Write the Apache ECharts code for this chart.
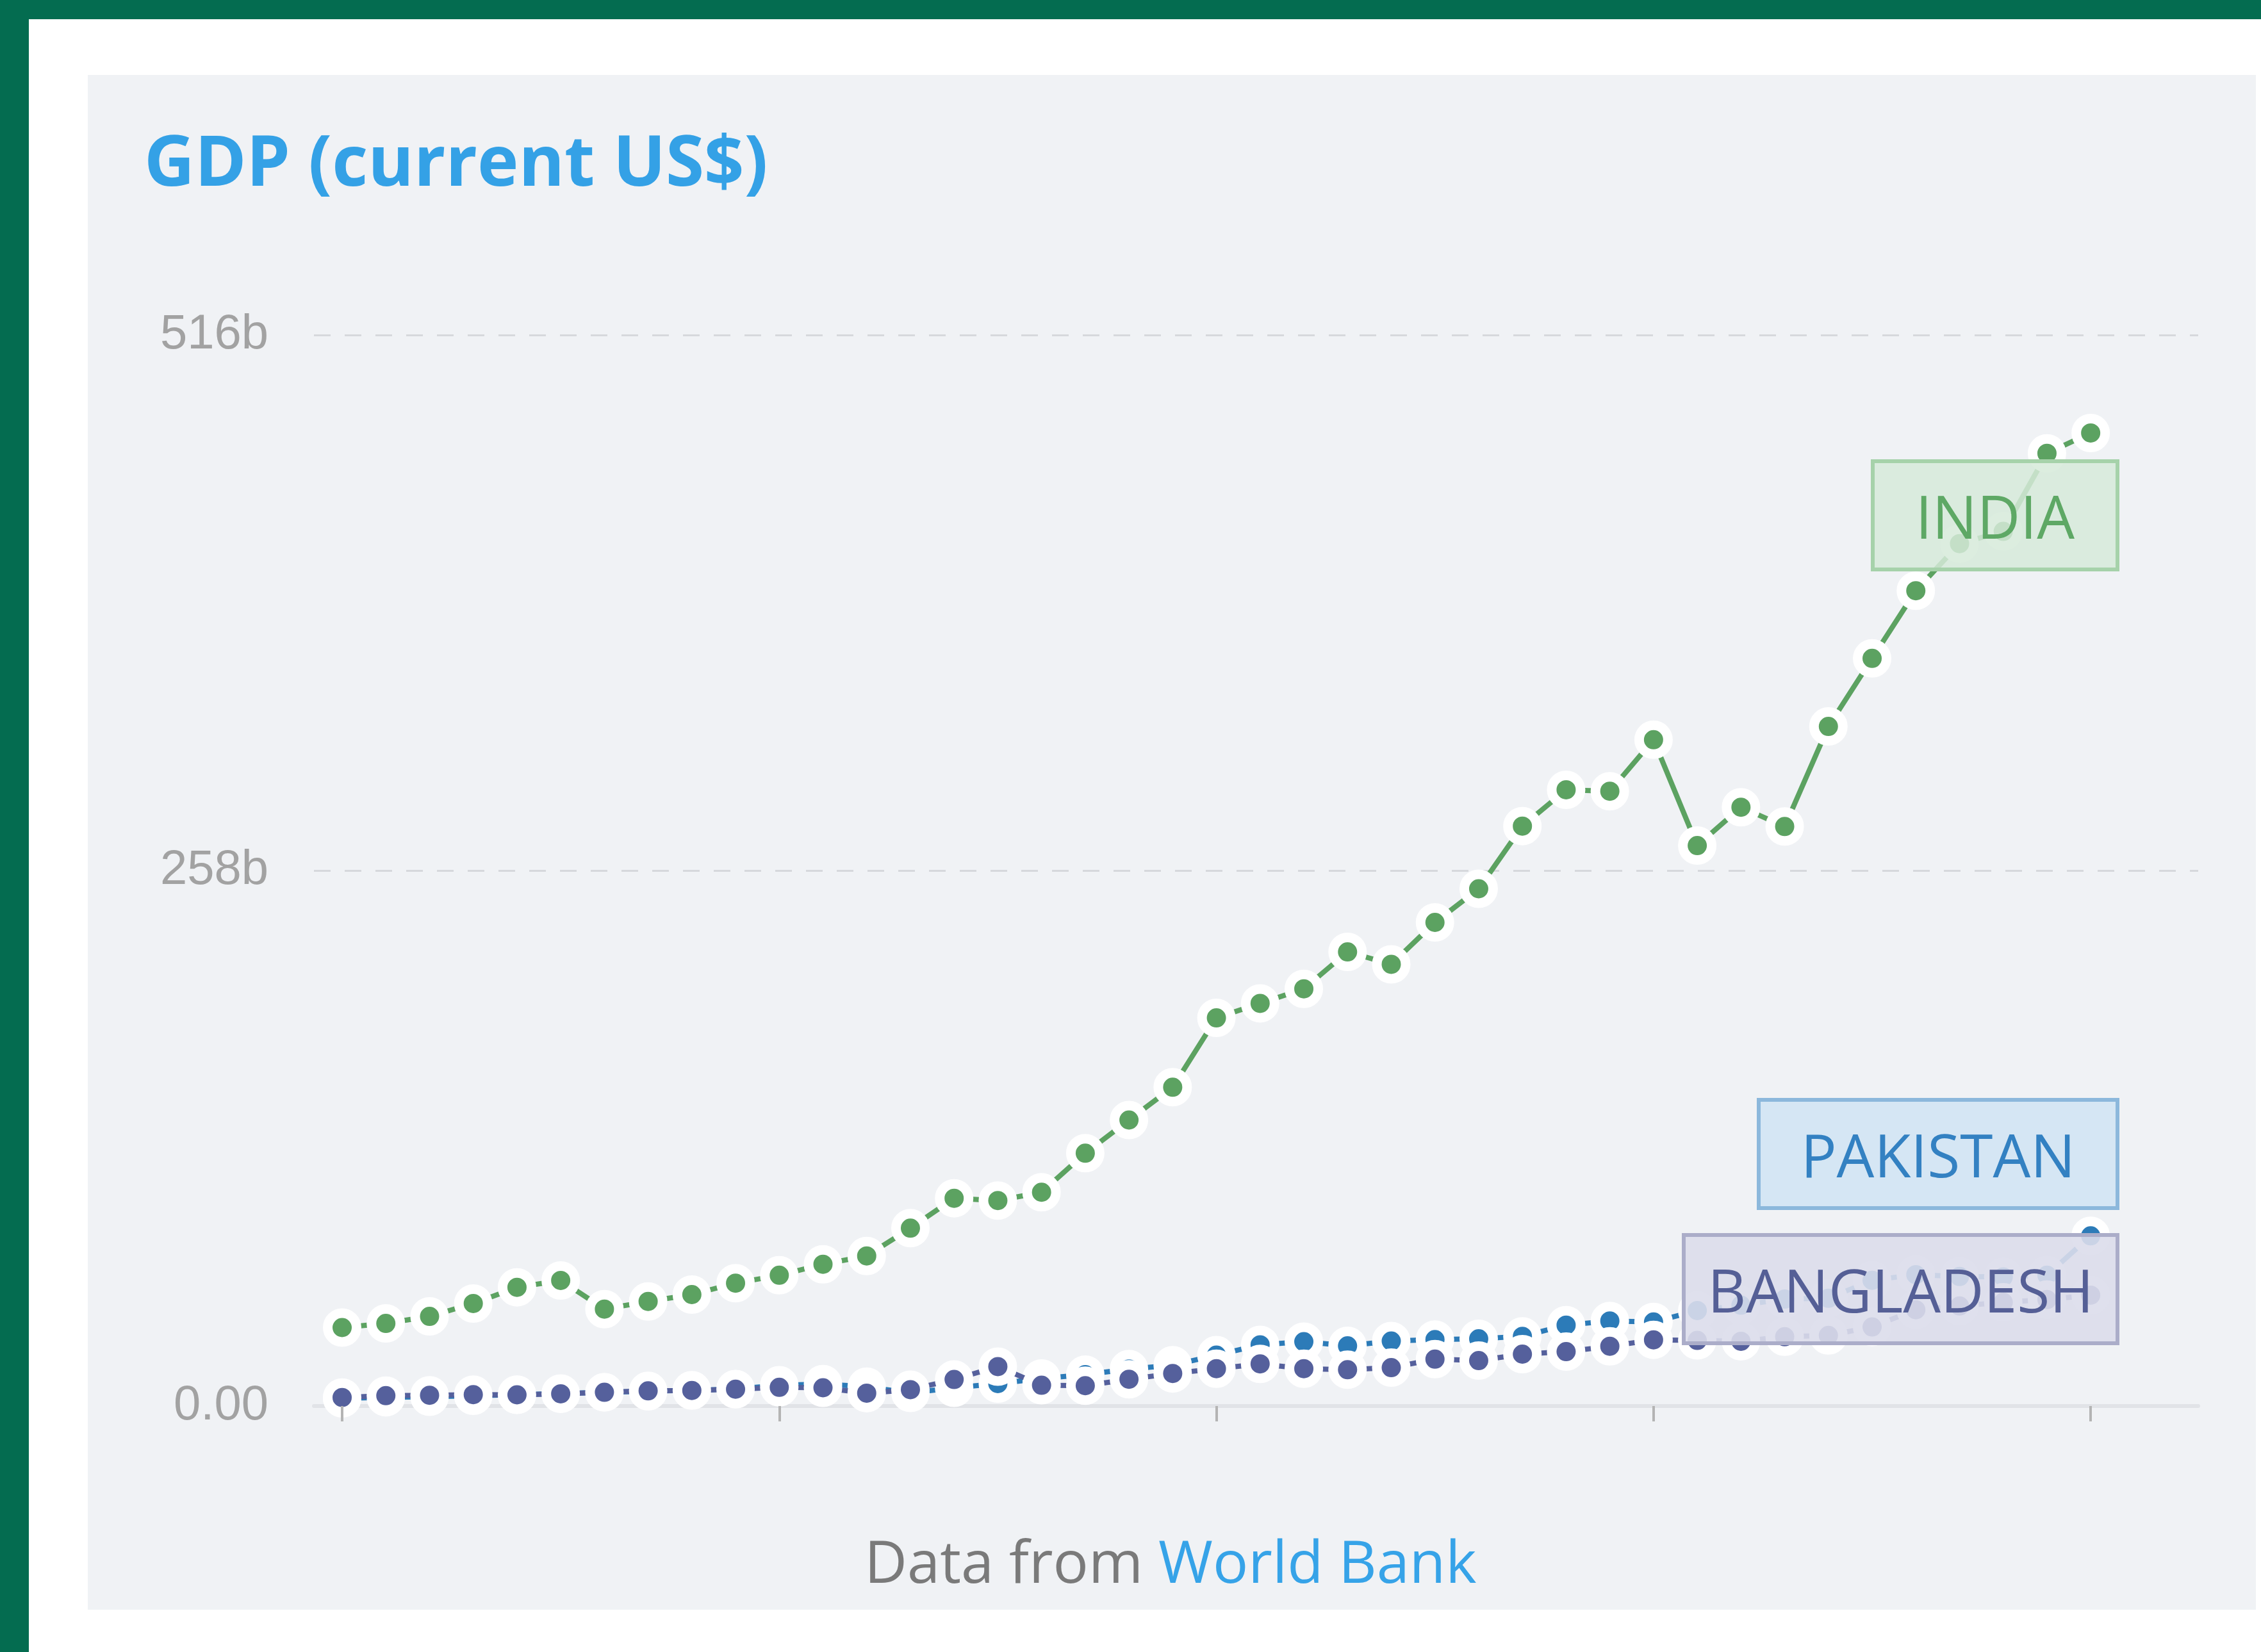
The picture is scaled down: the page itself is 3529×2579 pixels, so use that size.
<!DOCTYPE html>
<html><head><meta charset="utf-8">
<script src="https://cdn.jsdelivr.net/npm/echarts@6/dist/echarts.min.js"></script>
<style>
html,body{margin:0;padding:0;width:3529px;height:2579px;overflow:hidden;background:#046c50;}
#white{position:absolute;left:45px;top:30px;width:3484px;height:2549px;background:#ffffff;}
#panel{position:absolute;left:137px;top:117px;width:3384px;height:2396px;background:#f0f2f5;}
#chart{position:absolute;left:0;top:0;width:3529px;height:2579px;}
</style></head><body>
<div id="white"></div><div id="panel"></div><div id="chart"></div>
<script>
// ---- data (billions of current US$) ----
const years = [1960,1961,1962,1963,1964,1965,1966,1967,1968,1969,
               1970,1971,1972,1973,1974,1975,1976,1977,1978,1979,
               1980,1981,1982,1983,1984,1985,1986,1987,1988,1989,
               1990,1991,1992,1993,1994,1995,1996,1997,1998,1999,2000];
const india = [37.8, 39.8, 43.2, 49.4, 57.2, 60.5, 46.7, 50.4, 53.7, 59.2,
               63.0, 68.3, 72.3, 85.7, 100.1, 99.0, 103.0, 121.8, 137.8, 153.6,
               187.0, 194.0, 201.0, 218.8, 212.8, 233.0, 249.2, 279.4, 296.9, 296.2,
               321.0, 270.0, 288.5, 279.2, 327.4, 360.2, 392.8, 415.5, 421.4, 459.0, 468.8];
const pakistan = [3.7, 4.2, 4.5, 4.9, 5.5, 6.0, 6.6, 7.1, 7.6, 8.2,
                  10.0, 10.6, 9.3, 6.3, 8.8, 10.8, 13.3, 15.1, 17.8, 19.7,
                  24.5, 29.5, 31.0, 29.0, 31.3, 32.0, 32.4, 33.6, 39.0, 41.0,
                  40.5, 46.0, 48.6, 51.5, 51.9, 60.6, 63.3, 62.4, 62.2, 63.0, 82.0];
const bangladesh = [4.1, 5.0, 5.2, 5.5, 5.4, 5.9, 6.6, 7.3, 7.5, 8.1,
                    9.0, 8.8, 6.2, 7.9, 12.8, 19.0, 10.0, 9.8, 12.9, 15.7,
                    18.0, 20.3, 18.0, 17.5, 18.5, 22.6, 21.9, 25.0, 26.2, 28.8,
                    31.9, 31.6, 31.2, 33.4, 34.0, 38.1, 46.4, 48.2, 50.0, 51.3, 53.4];
const seriesNames = ['INDIA', 'PAKISTAN', 'BANGLADESH'];
const yTickValues = [0, 258, 516];
const yTickLabels = ['0.00', '258b', '516b'];
const xTickStep = 10;
const titleText = 'GDP (current US$)';
const sourcePrefix = 'Data from ';
const sourceName = 'World Bank';

// ---- styles ----
const COLORS = {INDIA:'#5ca261', PAKISTAN:'#2c7bb8', BANGLADESH:'#55609c'};
const BOX = {
  INDIA:      {fill:'rgba(214,234,217,0.85)', stroke:'#a6d2aa', text:'#5ea865', x:2923, y:720,  w:382, h:169},
  PAKISTAN:   {fill:'rgba(208,228,244,0.88)', stroke:'#8cb8dc', text:'#3381c2', x:2745, y:1717, w:560, h:169},
  BANGLADESH: {fill:'rgba(220,221,235,0.9)', stroke:'#abadc9', text:'#555f96', x:2628, y:1928, w:677, h:169}
};

function pairs(vals){ return years.map((y,i)=>[y, vals[i]]); }
const dataBy = {INDIA: india, PAKISTAN: pakistan, BANGLADESH: bangladesh};

const chart = echarts.init(document.getElementById('chart'), null, {renderer:'canvas'});

const drawOrder = ['INDIA', 'PAKISTAN', 'BANGLADESH'];
const series = drawOrder.map((name, k) => ({
  name: name,
  type: 'line',
  xAxisIndex: 0, yAxisIndex: 0,
  data: pairs(dataBy[name]),
  symbol: 'circle',
  symbolSize: 45,
  showSymbol: true,
  showAllSymbol: true,
  clip: false,
  z: 2 + k,
  itemStyle: {color: COLORS[name], borderColor: '#ffffff', borderWidth: 15, opacity: 1},
  lineStyle: {color: COLORS[name], width: 8},
  emphasis: {disabled: true},
  animation: false
}));

const graphics = [
  {type:'text', x:225, y:259, z:50,
   style:{text:titleText, font:'bold 109px "Open Sans"', fill:'#34a1e6', align:'left', verticalAlign:'middle'}},
  {type:'text', x:1827, y:2445, z:50,
   style:{text:'{a|'+sourcePrefix+'}{b|'+sourceName+'}', align:'center', verticalAlign:'middle',
          font:'92px "Open Sans"',
          rich:{a:{fill:'#7a7a7a', fontSize:92, fontFamily:'Open Sans'},
                b:{fill:'#36a3e8', fontSize:92, fontFamily:'Open Sans'}}}}
];
seriesNames.forEach(name => {
  const b = BOX[name];
  graphics.push({type:'rect', z:100, shape:{x:b.x, y:b.y, width:b.w, height:b.h},
                 style:{fill:b.fill, stroke:b.stroke, lineWidth:6}});
  graphics.push({type:'text', z:101, x:b.x + b.w/2, y:b.y + b.h/2 + 10,
                 style:{text:name, font:'93px "Open Sans"', fill:b.text, align:'center', verticalAlign:'middle'}});
});

chart.setOption({
  animation: false,
  backgroundColor: 'transparent',
  textStyle: {fontFamily: 'Open Sans'},
  grid: [
    {left: 490, right: 98, top: 523, bottom: 384, containLabel: false},
    {left: 534, right: 266, top: 523, bottom: 384, containLabel: false}
  ],
  xAxis: [
    {gridIndex: 0, type: 'value', min: 1959.355, max: 2002.46,
     axisLine: {show: true, onZero: false, lineStyle: {color: '#e1e3e7', width: 6}},
     axisTick: {show: false}, axisLabel: {show: false}, splitLine: {show: false}},
    {gridIndex: 1, type: 'value', min: years[0], max: years[years.length-1], interval: xTickStep,
     offset: 17, z: 20,
     axisLine: {show: false},
     axisTick: {show: true, length: 24, lineStyle: {color: '#b4b4b4', width: 4}},
     axisLabel: {show: false}, splitLine: {show: false}}
  ],
  yAxis: [
    {gridIndex: 0, type: 'value', min: yTickValues[0], max: yTickValues[2], interval: yTickValues[1],
     axisLine: {show: false}, axisTick: {show: false},
     axisLabel: {show: true, margin: 71, color: '#a2a2a2', fontSize: 76, fontFamily: 'Liberation Sans',
                 formatter: v => yTickLabels[yTickValues.indexOf(v)] ?? ''},
     splitLine: {show: true, lineStyle: {color: '#d6d8dc', width: 3, type: [26, 22]}}},
    {gridIndex: 1, type: 'value', min: yTickValues[0], max: yTickValues[2], show: false}
  ],
  series: series,
  graphic: graphics
});
</script>
</body></html>
